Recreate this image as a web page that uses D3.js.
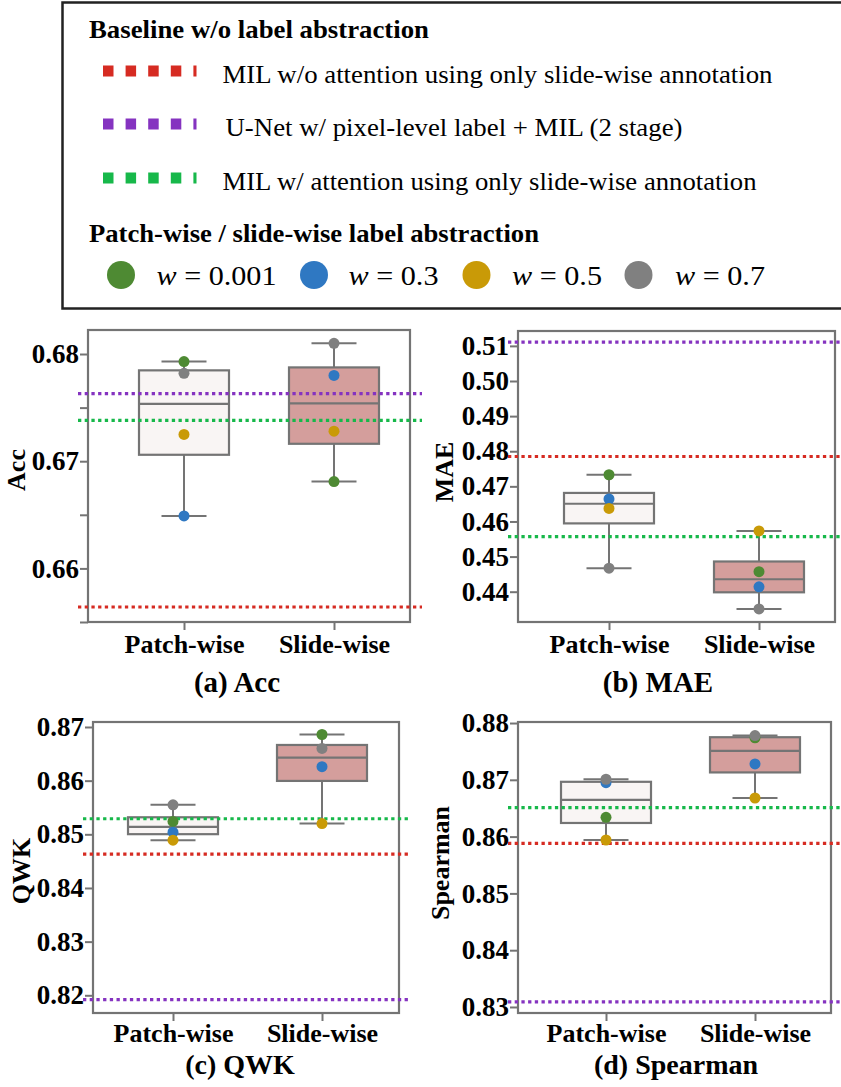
<!DOCTYPE html>
<html>
<head>
<meta charset="utf-8">
<script src="https://cdn.jsdelivr.net/npm/d3@7"></script>
<style>
  body { margin: 0; background: #fff; }
  svg { display: block; font-family: "Liberation Serif", "Times New Roman", serif; }
</style>
</head>
<body>
<svg id="chart" width="841" height="1087"></svg>
<script>
// categories and group colours
const categories = ["Patch-wise", "Slide-wise"];
const weights = ["0.001", "0.3", "0.5", "0.7"];
const weightColors = ["#4e8a33", "#2f78c2", "#c99a07", "#808080"];

// per-weight values, order: w=0.001, 0.3, 0.5, 0.7
const accPatch = [0.6793, 0.6649, 0.6725, 0.6782];
const accSlide = [0.6681, 0.6780, 0.6728, 0.6810];
const maePatch = [0.4733, 0.4664, 0.4637, 0.4467];
const maeSlide = [0.4457, 0.4414, 0.4573, 0.4351];
const qwkPatch = [0.8524, 0.8504, 0.8489, 0.8555];
const qwkSlide = [0.8686, 0.8626, 0.8520, 0.8660];
const spearmanPatch = [0.8634, 0.8695, 0.8594, 0.8701];
const spearmanSlide = [0.8774, 0.8728, 0.8668, 0.8778];

// baselines, order: MIL w/o attention, U-Net + MIL, MIL w/ attention
const baselineNames = [
  "MIL w/o attention using only slide-wise annotation",
  "U-Net w/ pixel-level label + MIL (2 stage)",
  "MIL w/ attention using only slide-wise annotation"
];
const baselineColors = ["#d62b22", "#8533c0", "#17b84a"];
const accBaselines = [0.6564, 0.6763, 0.6738];
const maeBaselines = [0.4785, 0.5111, 0.4557];
const qwkBaselines = [0.8463, 0.8192, 0.8529];
const spearmanBaselines = [0.8588, 0.8309, 0.8651];

const boxFills = ["#f9f5f4", "#d49e9c"];
const grey = "#747474";

const svg = d3.select("#chart");

// ---- legend ----
const leg = svg.append("g");
leg.append("rect").attr("x", 62.5).attr("y", 2.5).attr("width", 800).attr("height", 306)
  .attr("fill", "none").attr("stroke", "#222").attr("stroke-width", 2.5);

leg.append("text").attr("x", 89).attr("y", 38).attr("font-size", 25).attr("font-weight", "bold")
  .attr("textLength", 340).attr("lengthAdjust", "spacingAndGlyphs")
  .text("Baseline w/o label abstraction");

const legItemY = [71, 124, 178];
const legTextX = [222.5, 225.5, 222.5];
const legTextLen = [550, 457, 534];
baselineNames.forEach(function(name, i) {
  leg.append("line").attr("x1", 103).attr("x2", 196.5)
    .attr("y1", legItemY[i]).attr("y2", legItemY[i])
    .attr("stroke", baselineColors[i]).attr("stroke-width", 11)
    .attr("stroke-dasharray", "10.5,12.1");
  leg.append("text").attr("x", legTextX[i]).attr("y", legItemY[i] + 6)
    .attr("font-size", 25).attr("dy", "0.25em")
    .attr("textLength", legTextLen[i]).attr("lengthAdjust", "spacingAndGlyphs")
    .text(name);
});

leg.append("text").attr("x", 89).attr("y", 241.5).attr("font-size", 25).attr("font-weight", "bold")
  .attr("textLength", 450).attr("lengthAdjust", "spacingAndGlyphs")
  .text("Patch-wise / slide-wise label abstraction");

const legDotX = [121, 314, 476.5, 638.5];
const legLabelX = [156.5, 348.5, 512, 675];
const legLabelLen = [120, 90, 90, 90];
weights.forEach(function(w, i) {
  leg.append("circle").attr("cx", legDotX[i]).attr("cy", 275).attr("r", 14)
    .attr("fill", weightColors[i]);
  const t = leg.append("text").attr("x", legLabelX[i]).attr("y", 285).attr("font-size", 27)
    .attr("textLength", legLabelLen[i]).attr("lengthAdjust", "spacingAndGlyphs");
  t.append("tspan").attr("font-style", "italic").text("w");
  t.append("tspan").text(" = " + w);
});

// ---- panels ----
const panels = [
  { name: "Acc", caption: "(a) Acc", patch: accPatch, slide: accSlide, base: accBaselines,
    left: 88, right: 410, top: 330, bottom: 622, domain: [0.655, 0.68224],
    ticks: [0.655, 0.66, 0.665, 0.67, 0.675, 0.68], catX: [184, 334],
    titleX: 25, titleY: 470, capX: 237, capY: 692, tickY: 31, capSize: 29 },
  { name: "MAE", caption: "(b) MAE", patch: maePatch, slide: maeSlide, base: maeBaselines,
    left: 518, right: 835, top: 331, bottom: 622, domain: [0.43137, 0.51424],
    ticks: [0.44, 0.45, 0.46, 0.47, 0.48, 0.49, 0.50, 0.51], catX: [609, 759],
    titleX: 453, titleY: 472, capX: 658, capY: 692, tickY: 31, capSize: 29 },
  { name: "QWK", caption: "(c) QWK", patch: qwkPatch, slide: qwkSlide, base: qwkBaselines,
    left: 93, right: 399, top: 722, bottom: 1013, domain: [0.8167, 0.87093],
    ticks: [0.82, 0.83, 0.84, 0.85, 0.86, 0.87], catX: [173, 322],
    titleX: 30, titleY: 871, capX: 240, capY: 1074, tickY: 29, capSize: 28 },
  { name: "Spearman", caption: "(d) Spearman", patch: spearmanPatch, slide: spearmanSlide, base: spearmanBaselines,
    left: 518, right: 831, top: 722, bottom: 1013, domain: [0.82894, 0.88018],
    ticks: [0.83, 0.84, 0.85, 0.86, 0.87, 0.88], catX: [606, 755],
    titleX: 449, titleY: 863, capX: 676, capY: 1074, tickY: 29, capSize: 28 }
];

function boxStats(vals) {
  const s = vals.slice().sort(d3.ascending);
  const q1 = d3.quantile(s, 0.25), q3 = d3.quantile(s, 0.75), iqr = q3 - q1;
  const lo = d3.min(s.filter(v => v >= q1 - 1.5 * iqr));
  const hi = d3.max(s.filter(v => v <= q3 + 1.5 * iqr));
  return { q1: q1, med: d3.quantile(s, 0.5), q3: q3, lo: lo, hi: hi };
}

panels.forEach(function(p) {
  const g = svg.append("g");
  const y = d3.scaleLinear().domain(p.domain).range([p.bottom, p.top]);
  const x = d3.scalePoint().domain(categories).range(p.catX);
  const boxW = 90, capW = 45;

  // y axis
  const yAxis = g.append("g").attr("transform", "translate(" + p.left + ",0)")
    .call(d3.axisLeft(y).tickValues(p.ticks).tickSize(8).tickPadding(1)
      .tickFormat(function(d) { return Math.abs(d * 100 - Math.round(d * 100)) < 1e-6 ? d3.format(".2f")(d) : ""; }));
  yAxis.select(".domain").remove();
  yAxis.selectAll("line").attr("stroke", grey).attr("stroke-width", 2);
  yAxis.selectAll("text").attr("font-size", 27).attr("font-weight", "bold")
    .attr("font-family", "Liberation Serif, serif").attr("fill", "#000");

  // x axis
  const xAxis = g.append("g").attr("transform", "translate(0," + p.bottom + ")")
    .call(d3.axisBottom(x).tickSize(8));
  xAxis.select(".domain").remove();
  xAxis.selectAll("line").attr("stroke", grey).attr("stroke-width", 2);
  xAxis.selectAll("text").attr("font-size", 26).attr("font-weight", "bold")
    .attr("font-family", "Liberation Serif, serif").attr("fill", "#000")
    .attr("y", p.tickY).attr("dy", null);

  // boxes
  const groups = [p.patch, p.slide];
  groups.forEach(function(vals, ci) {
    const st = boxStats(vals);
    const cx = x(categories[ci]);
    const bg = g.append("g");
    bg.append("line").attr("x1", cx).attr("x2", cx).attr("y1", y(st.hi)).attr("y2", y(st.q3))
      .attr("stroke", grey).attr("stroke-width", 2);
    bg.append("line").attr("x1", cx).attr("x2", cx).attr("y1", y(st.q1)).attr("y2", y(st.lo))
      .attr("stroke", grey).attr("stroke-width", 2);
    [st.hi, st.lo].forEach(function(v) {
      bg.append("line").attr("x1", cx - capW / 2).attr("x2", cx + capW / 2)
        .attr("y1", y(v)).attr("y2", y(v)).attr("stroke", grey).attr("stroke-width", 2);
    });
    bg.append("rect").attr("x", cx - boxW / 2).attr("width", boxW)
      .attr("y", y(st.q3)).attr("height", y(st.q1) - y(st.q3))
      .attr("fill", boxFills[ci]).attr("stroke", grey).attr("stroke-width", 2.2);
    bg.append("line").attr("x1", cx - boxW / 2).attr("x2", cx + boxW / 2)
      .attr("y1", y(st.med)).attr("y2", y(st.med)).attr("stroke", grey).attr("stroke-width", 2.2);
  });

  // frame
  g.append("rect").attr("x", p.left).attr("y", p.top)
    .attr("width", p.right - p.left).attr("height", p.bottom - p.top)
    .attr("fill", "none").attr("stroke", grey).attr("stroke-width", 2.2);

  // baseline lines
  p.base.forEach(function(v, i) {
    g.append("line").attr("x1", p.left - 10).attr("x2", Math.min(p.right + 12, 841))
      .attr("y1", y(v)).attr("y2", y(v))
      .attr("stroke", baselineColors[i]).attr("stroke-width", 3.2)
      .attr("stroke-dasharray", "3.3,3.4");
  });

  // points
  groups.forEach(function(vals, ci) {
    g.selectAll(null).data(vals).enter().append("circle")
      .attr("cx", x(categories[ci])).attr("cy", function(d) { return y(d); })
      .attr("r", 5.5).attr("fill", function(d, i) { return weightColors[i]; });
  });

  // titles
  g.append("text").attr("transform", "translate(" + p.titleX + "," + p.titleY + ") rotate(-90)")
    .attr("text-anchor", "middle").attr("font-size", 26).attr("font-weight", "bold").text(p.name);
  g.append("text").attr("x", p.capX).attr("y", p.capY).attr("text-anchor", "middle")
    .attr("font-size", p.capSize).attr("font-weight", "bold").text(p.caption);
});
</script>
</body>
</html>
